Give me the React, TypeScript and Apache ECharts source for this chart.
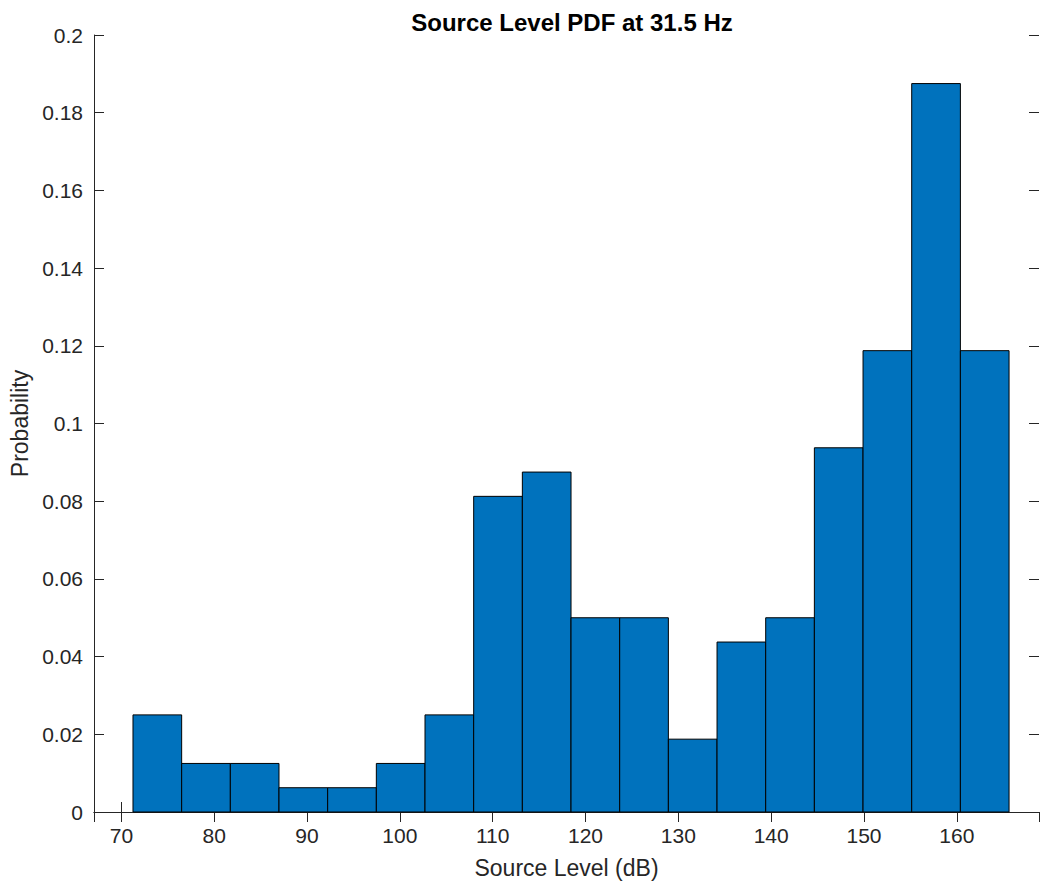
import React, { useEffect, useRef } from "react";
import * as echarts from "echarts";

const titleText = "Source Level PDF at 31.5 Hz";
const xAxisName = "Source Level (dB)";
const yAxisName = "Probability";

// Histogram bins (dB)
const binStart = 71.25;
const binWidth = 5.243;
// Probability per bin
const probabilities = [
  0.025, 0.0125, 0.0125, 0.00625, 0.00625, 0.0125, 0.025, 0.08125, 0.0875,
  0.05, 0.05, 0.01875, 0.04375, 0.05, 0.09375, 0.11875, 0.1875, 0.11875,
];

const xMin = 67.05;
const xMax = 168.85;
const yMin = 0;
const yMax = 0.2;
const yInterval = 0.02;

const axisColor = "#262626";
const barColor = "#0072BD";
const fontFamily = "'Liberation Sans', Arial, Helvetica, sans-serif";

export default function App() {
  const ref = useRef<HTMLDivElement>(null);

  useEffect(() => {
    if (!ref.current) return;
    const chart = echarts.init(ref.current, null, { renderer: "svg" });

    const data = probabilities.map((p, i) => [
      binStart + i * binWidth,
      binStart + (i + 1) * binWidth,
      p,
    ]);

    const axisLine = { show: true, lineStyle: { color: axisColor, width: 1 } };
    const axisTick = {
      show: true,
      inside: true,
      length: 10,
      lineStyle: { color: axisColor, width: 1 },
    };

    chart.setOption({
      animation: false,
      backgroundColor: "#ffffff",
      textStyle: { fontFamily },
      title: {
        text: titleText,
        left: 567,
        top: 5,
        textAlign: "center",
        textStyle: {
          fontFamily,
          fontSize: 24,
          fontWeight: "bold",
          color: "#000000",
        },
      },
      grid: {
        left: 94,
        top: 35,
        right: 1,
        bottom: 72,
        containLabel: false,
      },
      xAxis: [
        {
          type: "value",
          min: xMin,
          max: xMax,
          splitNumber: 10,
          position: "bottom",
          name: xAxisName,
          nameLocation: "middle",
          nameGap: 44,
          nameTextStyle: { fontFamily, fontSize: 23, color: axisColor },
          axisLine,
          axisTick,
          splitLine: { show: false },
          axisLabel: {
            fontFamily,
            fontSize: 21,
            color: axisColor,
            margin: 13,
            showMinLabel: false,
            showMaxLabel: false,
          },
        },
        {
          type: "value",
          min: xMin,
          max: xMax,
          splitNumber: 10,
          position: "top",
          axisLine,
          axisTick,
          splitLine: { show: false },
          axisLabel: { show: false },
        },
      ],
      yAxis: [
        {
          type: "value",
          min: yMin,
          max: yMax,
          interval: yInterval,
          position: "left",
          name: yAxisName,
          nameLocation: "middle",
          nameGap: 60,
          nameRotate: 90,
          nameTextStyle: { fontFamily, fontSize: 23, color: axisColor },
          axisLine,
          axisTick,
          splitLine: { show: false },
          axisLabel: {
            fontFamily,
            fontSize: 21,
            color: axisColor,
            margin: 11,
          },
        },
        {
          type: "value",
          min: yMin,
          max: yMax,
          interval: yInterval,
          position: "right",
          axisLine: { show: false },
          axisTick,
          splitLine: { show: false },
          axisLabel: { show: false },
        },
      ],
      series: [
        {
          type: "custom",
          xAxisIndex: 0,
          yAxisIndex: 0,
          data,
          encode: { x: [0, 1], y: 2 },
          renderItem: (params: any, api: any) => {
            const x0 = api.value(0);
            const x1 = api.value(1);
            const y = api.value(2);
            const start = api.coord([x0, y]);
            const end = api.coord([x1, 0]);
            return {
              type: "rect",
              shape: {
                x: start[0],
                y: start[1],
                width: end[0] - start[0],
                height: end[1] - start[1],
              },
              style: {
                fill: barColor,
                stroke: "#000000",
                lineWidth: 1,
              },
            };
          },
        },
      ],
    });

    return () => chart.dispose();
  }, []);

  return (
    <div
      ref={ref}
      style={{
        position: "fixed",
        left: 0,
        top: 0,
        width: 1040,
        height: 884,
        background: "#ffffff",
      }}
    />
  );
}
